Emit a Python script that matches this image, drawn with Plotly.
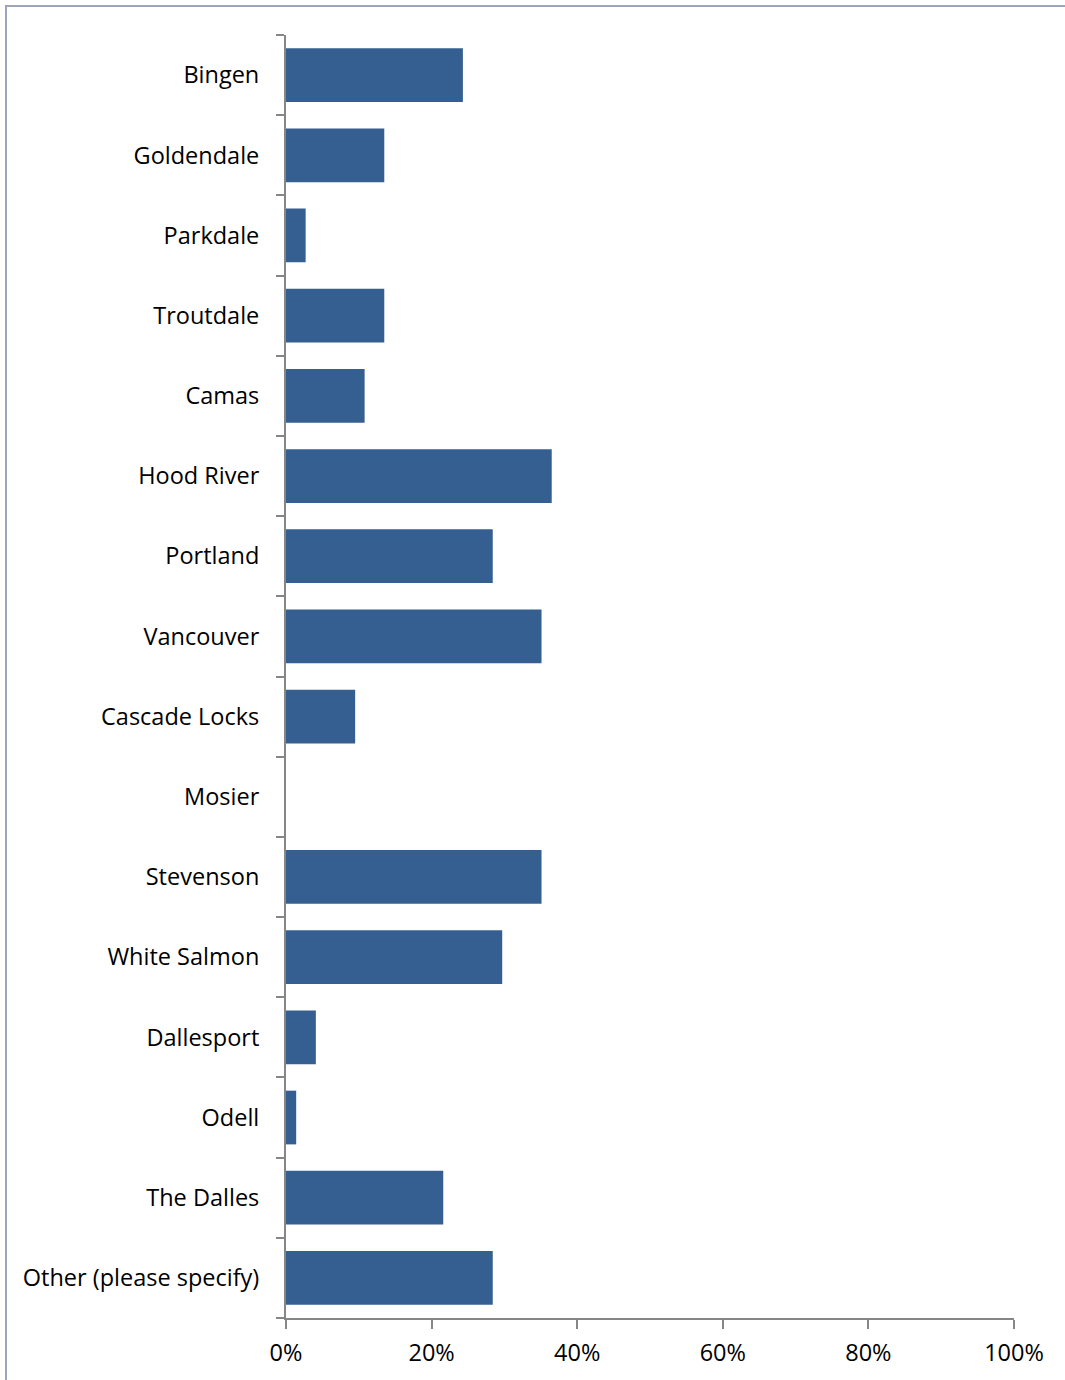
import plotly.graph_objects as go

categories = ["Bingen", "Goldendale", "Parkdale", "Troutdale", "Camas", "Hood River",
              "Portland", "Vancouver", "Cascade Locks", "Mosier", "Stevenson",
              "White Salmon", "Dallesport", "Odell", "The Dalles", "Other (please specify)"]
values = [0.243, 0.135, 0.027, 0.135, 0.108, 0.365, 0.284, 0.351, 0.095, 0.0,
          0.351, 0.297, 0.041, 0.014, 0.216, 0.284]
x_ticks = [0, 0.2, 0.4, 0.6, 0.8, 1.0]

W, H = 1065, 1380
L, R, T, B = 286, 51, 35, 62
pw, ph = W - L - R, H - T - B

fig = go.Figure(go.Bar(
    x=values, y=categories, orientation="h",
    marker=dict(color="#365F91", line=dict(width=0)),
    hoverinfo="x+y",
))

font_family = "Open Sans, Lato, sans-serif"
fs = 23.5

fig.update_layout(
    width=W, height=H,
    margin=dict(l=L, r=R, t=T, b=B, pad=0),
    paper_bgcolor="white", plot_bgcolor="white",
    bargap=0.33,
    showlegend=False,
    font=dict(family=font_family, size=fs, color="#000000"),
    xaxis=dict(
        range=[0, 1], tickvals=x_ticks, tickformat=".0%",
        showgrid=False, zeroline=False,
        showline=True, linecolor="#868686", linewidth=2,
        ticks="outside", ticklen=9, tickcolor="#868686", tickwidth=2,
        ticklabelstandoff=4,
        tickfont=dict(family=font_family, size=fs),
        fixedrange=True,
    ),
    yaxis=dict(
        categoryorder="array", categoryarray=categories[::-1],
        showgrid=False, zeroline=False,
        showline=True, linecolor="#868686", linewidth=2,
        ticks="outside", ticklen=8, tickcolor="#868686", tickwidth=2,
        tickson="boundaries",
        ticklabelstandoff=20,
        tickfont=dict(family=font_family, size=fs),
        fixedrange=True,
    ),
    shapes=[dict(
        type="rect", xref="paper", yref="paper",
        x0=(6 - L) / pw, x1=(W + 20 - L) / pw,
        y0=-(B + 20) / ph, y1=(H - B - 6) / ph,
        line=dict(color="#9DA5BC", width=2), fillcolor="rgba(0,0,0,0)",
        layer="below",
    )],
)

fig.write_html("out.html", config={"displayModeBar": False},
               post_script="document.body.style.margin='0';document.body.style.overflow='hidden';")
